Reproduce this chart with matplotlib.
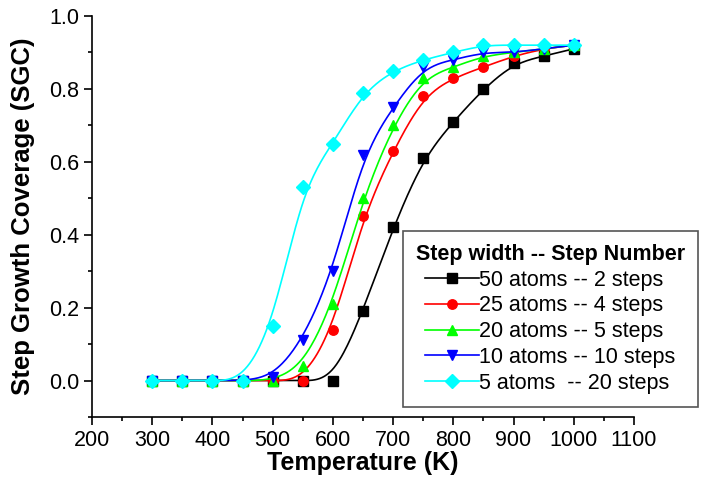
import numpy as np
import matplotlib
matplotlib.use("Agg")
import matplotlib.pyplot as plt
from matplotlib.ticker import MultipleLocator

plt.rcParams['font.family'] = ['Liberation Sans', 'DejaVu Sans']

temps = [300, 350, 400, 450, 500, 550, 600, 650, 700, 750, 800, 850, 900, 950, 1000]

sgc_50 = [0, 0, 0, 0, 0, 0, 0, 0.19, 0.42, 0.61, 0.71, 0.80, 0.87, 0.89, 0.91]
sgc_25 = [0, 0, 0, 0, 0, 0, 0.14, 0.45, 0.63, 0.78, 0.83, 0.86, 0.89, 0.91, 0.92]
sgc_20 = [0, 0, 0, 0, 0, 0.04, 0.21, 0.50, 0.70, 0.83, 0.86, 0.89, 0.90, 0.91, 0.92]
sgc_10 = [0, 0, 0, 0, 0.01, 0.11, 0.30, 0.62, 0.75, 0.86, 0.88, 0.90, 0.90, 0.91, 0.92]
sgc_5 = [0, 0, 0, 0, 0.15, 0.53, 0.65, 0.79, 0.85, 0.88, 0.90, 0.92, 0.92, 0.92, 0.92]

labels = ["50 atoms -- 2 steps", "25 atoms -- 4 steps", "20 atoms -- 5 steps",
          "10 atoms -- 10 steps", "5 atoms  -- 20 steps"]
colors = ["black", "#ff0000", "#00ff00", "#0000ff", "#00ffff"]
markers = ["s", "o", "^", "v", "D"]

# uniform cubic B-spline basis
B = np.array([[-1, 3, -3, 1],
              [3, -6, 3, 0],
              [-3, 0, 3, 0],
              [1, 4, 1, 0]]) / 6.0


def bspline(xp, yp, n=25):
    # smooth B-spline line with the data points as control points (ends clamped)
    P = np.column_stack([xp, yp]).astype(float)
    P = np.vstack([P[0], P[0], P, P[-1], P[-1]])
    t = np.linspace(0, 1, n, endpoint=False)
    T = np.column_stack([t ** 3, t ** 2, t, np.ones_like(t)])
    segs = [T @ B @ P[i:i + 4] for i in range(len(P) - 3)]
    segs.append(P[-1:])
    out = np.vstack(segs)
    return out[:, 0], out[:, 1]


fig = plt.figure(figsize=(7.01, 4.95), dpi=100)
ax = fig.add_axes([92 / 701, 1 - 417 / 495, (634 - 92) / 701, (417 - 16) / 495])

for y, lab, c, m in zip([sgc_50, sgc_25, sgc_20, sgc_10, sgc_5], labels, colors, markers):
    sx, sy = bspline(temps, y)
    ax.plot(sx, sy, color=c, lw=1.2)
    ms = 7 if m == "D" else 6.8
    ax.plot(temps, y, ls='none', marker=m, color=c, ms=ms)
    ax.plot([], [], color=c, lw=1.2, marker=m, ms=ms, label=lab)

ax.set_xlim(200, 1100)
ax.set_ylim(-0.1, 1.0)
ax.xaxis.set_major_locator(MultipleLocator(100))
ax.xaxis.set_minor_locator(MultipleLocator(50))
ax.yaxis.set_minor_locator(MultipleLocator(0.1))
ax.set_yticks([0, 0.2, 0.4, 0.6, 0.8, 1.0])
ax.yaxis.set_major_formatter(plt.FormatStrFormatter('%.1f'))

for side in ['top', 'right']:
    ax.spines[side].set_visible(False)
for side in ['left', 'bottom']:
    ax.spines[side].set_linewidth(1.2)
ax.tick_params(which='major', direction='out', length=5.5, width=1.2, labelsize=15.5)
ax.tick_params(which='minor', direction='out', length=3, width=1.2)

ax.set_xlabel("Temperature (K)", fontsize=18, fontweight='bold', labelpad=0.5)
ax.set_ylabel("Step Growth Coverage (SGC)", fontsize=18.5, fontweight='bold', labelpad=10)

leg = ax.legend(loc='upper left', bbox_to_anchor=(403 / 701, 1 - 231 / 495),
                bbox_transform=fig.transFigure, borderaxespad=0,
                title="Step width -- Step Number",
                title_fontproperties={'weight': 'bold', 'size': 15.5},
                fontsize=15.5, fancybox=False,
                handlelength=2.5, handletextpad=0.0, labelspacing=0.22,
                borderpad=0.6, framealpha=1)
leg.get_frame().set_edgecolor('#555555')
leg.get_frame().set_linewidth(1.2)

fig.savefig("out.png", dpi=100)
